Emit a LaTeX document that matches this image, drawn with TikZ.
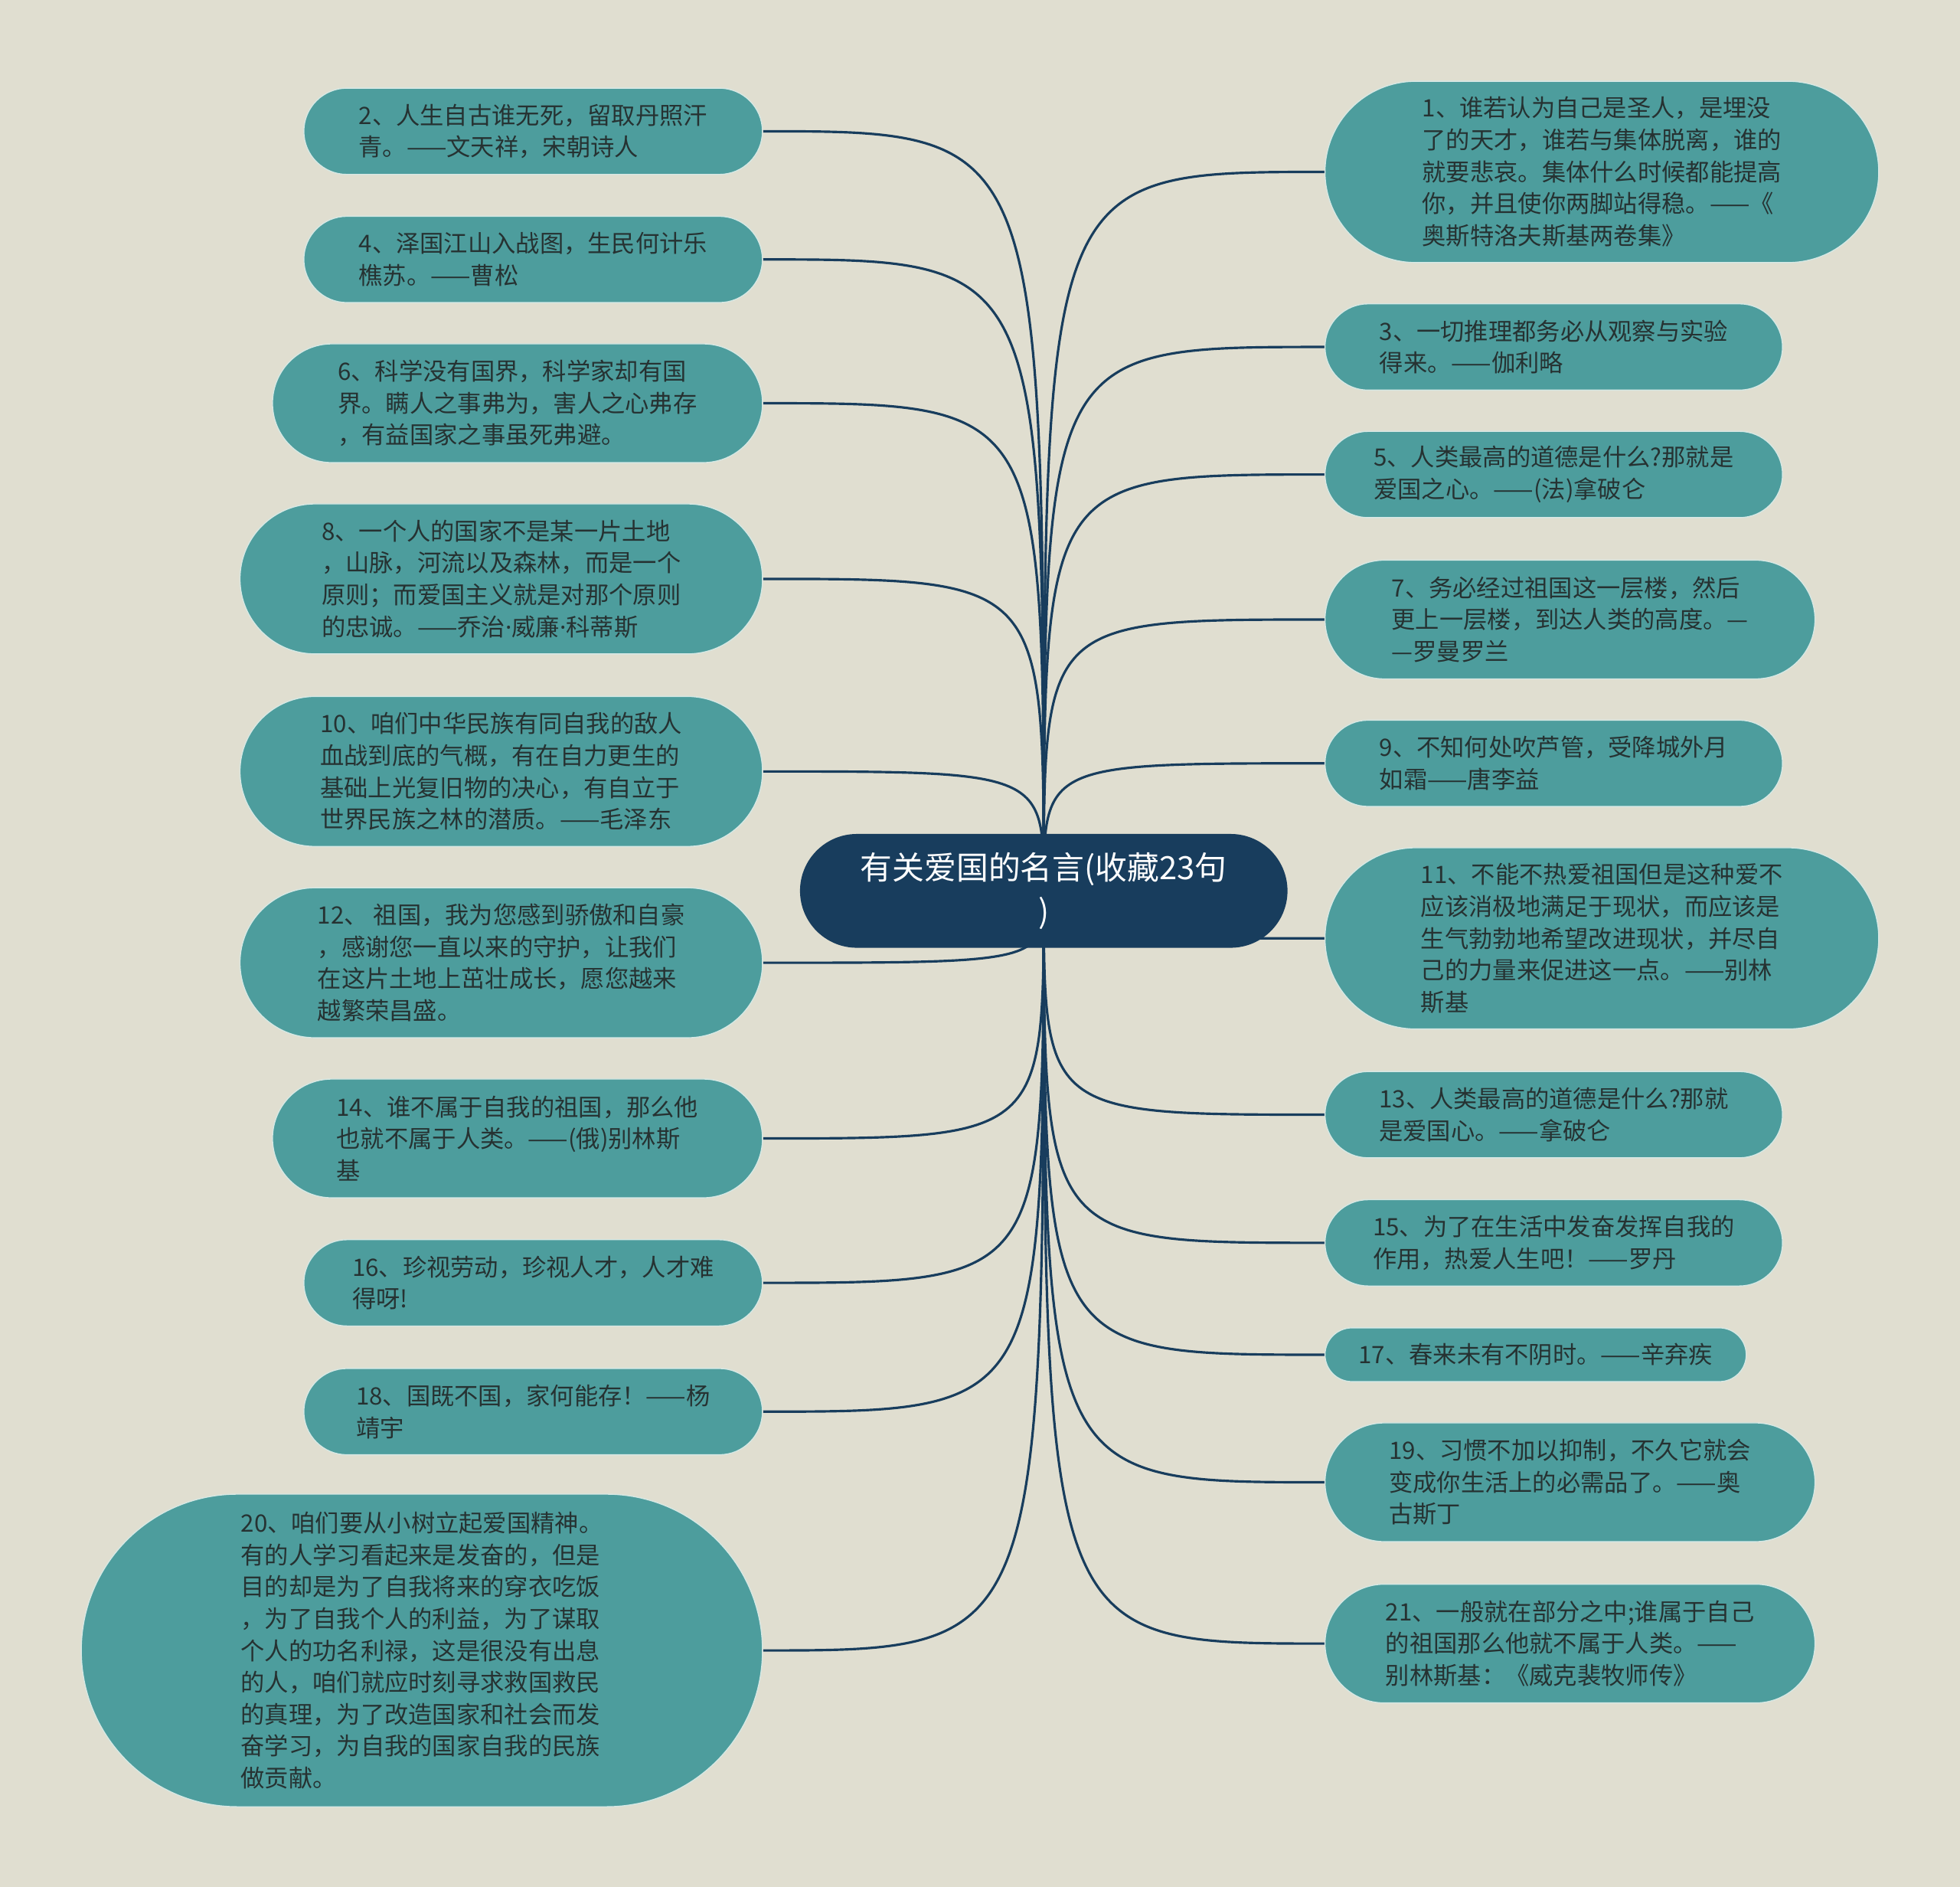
\documentclass[tikz,border=0pt]{standalone}
\usepackage{fontspec}
\setmainfont{Noto Sans CJK SC}
\newfontfamily\latinfont{Noto Sans}
\usepackage{tikz}
\usetikzlibrary{
  positioning
}
\definecolor{mapPaper}{RGB}{224,222,208}
\definecolor{mapNavy}{RGB}{24,61,93}
\definecolor{mapTeal}{RGB}{77,157,157}
\definecolor{mapInk}{RGB}{38,50,50}
\definecolor{mapRim}{RGB}{214,232,228}
\newcommand{\middot}{{\latinfont ·}}
\pgfdeclarelayer{paper}
\pgfdeclarelayer{links}
\pgfsetlayers{paper,links,main}
\tikzset{
  mapRoot/.style={
    rectangle,
    rounded corners=0.743cm,
    fill=mapNavy,
    text=white,
    minimum width=6.367cm,
    minimum height=1.486cm,
    inner sep=0pt,
    align=center,
    font=\fontsize{11.9pt}{16.2pt}\selectfont
  },
  mapLeaf/.style={
    rectangle,
    fill=mapTeal,
    draw=mapRim,
    line width=0.4pt,
    text=mapInk,
    minimum width=#1,
    inner sep=0pt,
    align=left,
    font=\fontsize{8.9pt}{11.85pt}\selectfont
  },
  leafOne/.style={minimum height=0.702cm, rounded corners=0.351cm},
  leafTwo/.style={minimum height=1.127cm, rounded corners=0.563cm},
  leafThree/.style={minimum height=1.551cm, rounded corners=0.775cm},
  leafFour/.style={minimum height=1.959cm, rounded corners=0.979cm},
  leafFive/.style={minimum height=2.367cm, rounded corners=1.183cm},
  leafNine/.style={minimum height=4.082cm, rounded corners=2.04cm},
  mapLink/.style={
    line width=0.9pt,
    draw=mapNavy
  }
}

\begin{document}
\begin{tikzpicture}[x=0.016327cm, y=-0.016327cm]
  \useasboundingbox (0,0) rectangle (1568,1509);
  \begin{pgfonlayer}{paper}
    \fill[mapPaper] (0,0) rectangle (1568,1509);
  \end{pgfonlayer}

  % centre
  \node[mapRoot] (root) at (835,712.5) {有关爱国的名言(收藏23句\\)};

  % left side
  \node[mapLeaf=5.99cm, leafTwo] (n2) at (426.5,105) {2、人生自古谁无死，留取丹照汗\\青。——文天祥，宋朝诗人};
  \node[mapLeaf=5.99cm, leafTwo] (n4) at (426.5,207.5) {4、泽国江山入战图，生民何计乐\\樵苏。——曹松};
  \node[mapLeaf=6.40cm, leafThree] (n6) at (414,322.5) {6、科学没有国界，科学家却有国\\界。瞒人之事弗为，害人之心弗存\\，有益国家之事虽死弗避。};
  \node[mapLeaf=6.825cm, leafFour] (n8) at (401,463) {8、一个人的国家不是某一片土地\\，山脉，河流以及森林，而是一个\\原则；而爱国主义就是对那个原则\\的忠诚。——乔治\middot 威廉\middot 科蒂斯};
  \node[mapLeaf=6.825cm, leafFour] (n10) at (401,617) {10、咱们中华民族有同自我的敌人\\血战到底的气概，有在自力更生的\\基础上光复旧物的决心，有自立于\\世界民族之林的潜质。——毛泽东};
  \node[mapLeaf=6.825cm, leafFour] (n12) at (401,770) {12、 祖国，我为您感到骄傲和自豪\\，感谢您一直以来的守护，让我们\\在这片土地上茁壮成长，愿您越来\\越繁荣昌盛。};
  \node[mapLeaf=6.40cm, leafThree] (n14) at (414,910.5) {14、谁不属于自我的祖国，那么他\\也就不属于人类。——(俄)别林斯\\基};
  \node[mapLeaf=5.99cm, leafTwo] (n16) at (426.5,1026) {16、珍视劳动，珍视人才，人才难\\得呀!};
  \node[mapLeaf=5.99cm, leafTwo] (n18) at (426.5,1129) {18、国既不国，家何能存！——杨\\靖宇};
  \node[mapLeaf=8.898cm, leafNine] (n20) at (337.5,1320) {20、咱们要从小树立起爱国精神。\\有的人学习看起来是发奋的，但是\\目的却是为了自我将来的穿衣吃饭\\，为了自我个人的利益，为了谋取\\个人的功名利禄，这是很没有出息\\的人，咱们就应时刻寻求救国救民\\的真理，为了改造国家和社会而发\\奋学习，为自我的国家自我的民族\\做贡献。};

  % right side
  \node[mapLeaf=7.233cm, leafFive] (n1) at (1281.5,137.5) {1、谁若认为自己是圣人，是埋没\\了的天才，谁若与集体脱离，谁的\\就要悲哀。集体什么时候都能提高\\你，并且使你两脚站得稳。——《\\奥斯特洛夫斯基两卷集》};
  \node[mapLeaf=5.976cm, leafTwo] (n3) at (1243,277.5) {3、一切推理都务必从观察与实验\\得来。——伽利略};
  \node[mapLeaf=5.976cm, leafTwo] (n5) at (1243,379.5) {5、人类最高的道德是什么?那就是\\爱国之心。——(法)拿破仑};
  \node[mapLeaf=6.40cm, leafThree] (n7) at (1256,495.5) {7、务必经过祖国这一层楼，然后\\更上一层楼，到达人类的高度。—\\—罗曼罗兰};
  \node[mapLeaf=5.976cm, leafTwo] (n9) at (1243,610.5) {9、不知何处吹芦管，受降城外月\\如霜——唐李益};
  \node[mapLeaf=7.233cm, leafFive] (n11) at (1281.5,750.5) {11、不能不热爱祖国但是这种爱不\\应该消极地满足于现状，而应该是\\生气勃勃地希望改进现状，并尽自\\己的力量来促进这一点。——别林\\斯基};
  \node[mapLeaf=5.976cm, leafTwo] (n13) at (1243,891.5) {13、人类最高的道德是什么?那就\\是爱国心。——拿破仑};
  \node[mapLeaf=5.976cm, leafTwo] (n15) at (1243,994) {15、为了在生活中发奋发挥自我的\\作用，热爱人生吧！——罗丹};
  \node[mapLeaf=5.502cm, leafOne] (n17) at (1228.5,1083.5) {17、春来未有不阴时。——辛弃疾};
  \node[mapLeaf=6.40cm, leafThree] (n19) at (1256,1185.5) {19、习惯不加以抑制，不久它就会\\变成你生活上的必需品了。——奥\\古斯丁};
  \node[mapLeaf=6.40cm, leafThree] (n21) at (1256,1314.5) {21、一般就在部分之中;谁属于自己\\的祖国那么他就不属于人类。——\\别林斯基：《威克裴牧师传》};

  % links
  \begin{pgfonlayer}{links}
    \draw[mapLink] (root.center) .. controls (root.center |- n2.east) .. (n2.east);
    \draw[mapLink] (root.center) .. controls (root.center |- n4.east) .. (n4.east);
    \draw[mapLink] (root.center) .. controls (root.center |- n6.east) .. (n6.east);
    \draw[mapLink] (root.center) .. controls (root.center |- n8.east) .. (n8.east);
    \draw[mapLink] (root.center) .. controls (root.center |- n10.east) .. (n10.east);
    \draw[mapLink] (root.center) .. controls (root.center |- n12.east) .. (n12.east);
    \draw[mapLink] (root.center) .. controls (root.center |- n14.east) .. (n14.east);
    \draw[mapLink] (root.center) .. controls (root.center |- n16.east) .. (n16.east);
    \draw[mapLink] (root.center) .. controls (root.center |- n18.east) .. (n18.east);
    \draw[mapLink] (root.center) .. controls (root.center |- n20.east) .. (n20.east);
    \draw[mapLink] (root.center) .. controls (root.center |- n1.west) .. (n1.west);
    \draw[mapLink] (root.center) .. controls (root.center |- n3.west) .. (n3.west);
    \draw[mapLink] (root.center) .. controls (root.center |- n5.west) .. (n5.west);
    \draw[mapLink] (root.center) .. controls (root.center |- n7.west) .. (n7.west);
    \draw[mapLink] (root.center) .. controls (root.center |- n9.west) .. (n9.west);
    \draw[mapLink] (root.center) .. controls (root.center |- n11.west) .. (n11.west);
    \draw[mapLink] (root.center) .. controls (root.center |- n13.west) .. (n13.west);
    \draw[mapLink] (root.center) .. controls (root.center |- n15.west) .. (n15.west);
    \draw[mapLink] (root.center) .. controls (root.center |- n17.west) .. (n17.west);
    \draw[mapLink] (root.center) .. controls (root.center |- n19.west) .. (n19.west);
    \draw[mapLink] (root.center) .. controls (root.center |- n21.west) .. (n21.west);
  \end{pgfonlayer}
\end{tikzpicture}
\end{document}
